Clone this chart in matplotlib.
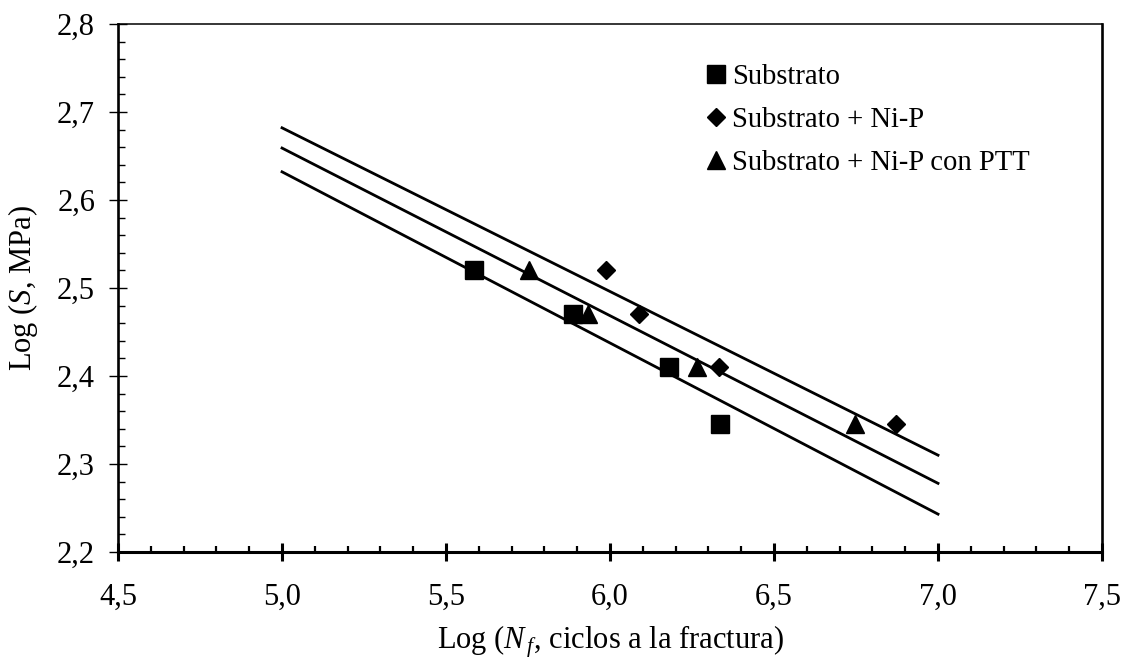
import matplotlib
matplotlib.use("Agg")
import matplotlib.pyplot as plt
from matplotlib.ticker import MultipleLocator, FuncFormatter

# log(Nf), log(S) for each condition
sub_x = [5.586, 5.887, 6.181, 6.334]
sub_y = [2.520, 2.470, 2.410, 2.346]
nip_x = [5.989, 6.088, 6.332, 6.871]
nip_y = [2.520, 2.470, 2.410, 2.346]
ptt_x = [5.752, 5.933, 6.265, 6.748]
ptt_y = [2.520, 2.470, 2.410, 2.346]

# fitted Basquin lines (end points)
fit_x = [5.0, 7.0]
fit_sub = [2.632, 2.243]
fit_ptt = [2.659, 2.278]
fit_nip = [2.682, 2.310]

labels = ['Substrato', 'Substrato + Ni-P', 'Substrato + Ni-P con PTT']

plt.rcParams['font.family'] = ['Liberation Serif', 'DejaVu Serif']
plt.rcParams['mathtext.fontset'] = 'custom'
plt.rcParams['mathtext.it'] = 'Liberation Serif:italic'
plt.rcParams['mathtext.rm'] = 'Liberation Serif'
fs = 22

fig = plt.figure(figsize=(11.22, 6.59), dpi=100)
ax = fig.add_axes([0.1052, 0.1624, 0.8770, 0.8012])

lw = 2.0
ax.plot(fit_x, fit_sub, color='k', linewidth=lw)
ax.plot(fit_x, fit_ptt, color='k', linewidth=lw)
ax.plot(fit_x, fit_nip, color='k', linewidth=lw)

ax.plot(sub_x, sub_y, linestyle='none', marker='s', markersize=13.5, color='k', label=labels[0])
ax.plot(nip_x, nip_y, linestyle='none', marker='D', markersize=9.2, color='k', label=labels[1])
ax.plot(ptt_x, ptt_y, linestyle='none', marker='^', markersize=13.5, color='k', label=labels[2])

ax.set_xlim(4.5, 7.5)
ax.set_ylim(2.2, 2.8)
ax.xaxis.set_major_locator(MultipleLocator(0.5))
ax.xaxis.set_minor_locator(MultipleLocator(0.1))
ax.yaxis.set_major_locator(MultipleLocator(0.1))
ax.yaxis.set_minor_locator(MultipleLocator(0.02))
comma = FuncFormatter(lambda v, p: f"{v:.1f}".replace('.', ','))
ax.xaxis.set_major_formatter(comma)
ax.yaxis.set_major_formatter(comma)

ax.tick_params(axis='x', which='major', direction='inout', length=13, width=2.2, pad=16, labelsize=fs)
ax.tick_params(axis='x', which='minor', direction='in', length=4.5, width=1.6)
ax.tick_params(axis='y', which='major', direction='inout', length=13, width=1.0, pad=10, labelsize=fs)
ax.tick_params(axis='y', which='minor', direction='in', length=5, width=1.0)

ax.spines['bottom'].set_linewidth(2.2)
ax.spines['left'].set_linewidth(1.9)
ax.spines['top'].set_linewidth(1.1)
ax.spines['right'].set_linewidth(1.9)

ax.set_xlabel(r'Log ($N_{\,f}$, ciclos a la fractura)', fontsize=fs, labelpad=8)
ax.set_ylabel(r'Log ($S$, MPa)', fontsize=fs, labelpad=12)

ax.legend(loc='upper left', bbox_to_anchor=(0.596, 0.925), frameon=False, fontsize=20.6,
          handlelength=0.8, handletextpad=0.16, labelspacing=0.6, borderaxespad=0,
          borderpad=0, markerscale=0.95)

fig.savefig('out.png', dpi=100)
